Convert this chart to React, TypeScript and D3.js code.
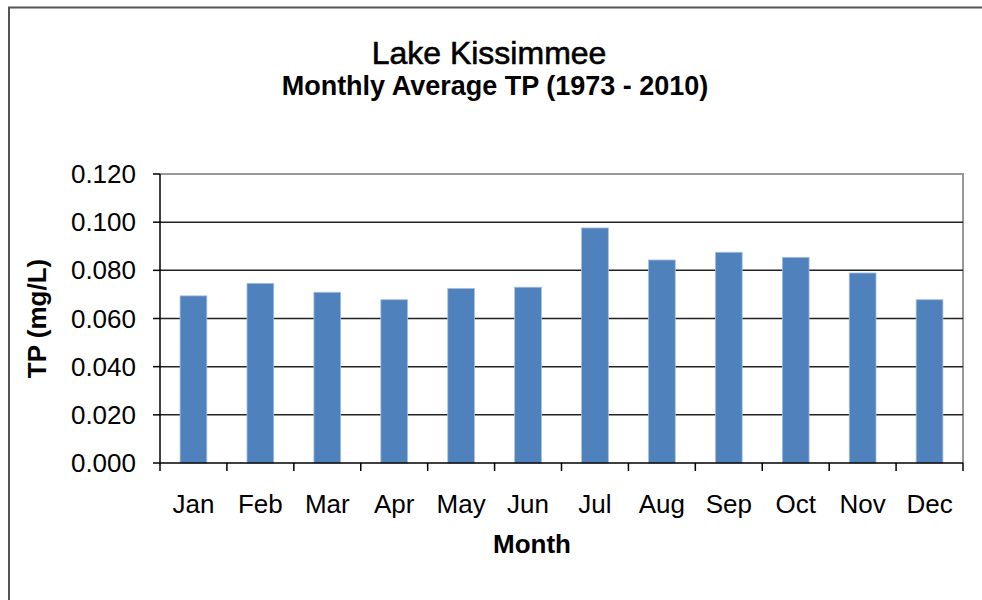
import React from "react";
import * as d3 from "d3";

const months = ["Jan", "Feb", "Mar", "Apr", "May", "Jun", "Jul", "Aug", "Sep", "Oct", "Nov", "Dec"];
const tpValues = [0.0694, 0.0746, 0.0709, 0.0678, 0.0725, 0.073, 0.0976, 0.0843, 0.0875, 0.0854, 0.0789, 0.0678];
const yTicks = [0, 0.02, 0.04, 0.06, 0.08, 0.1, 0.12];
const titleText = "Lake Kissimmee";
const subtitleText = "Monthly Average TP (1973 - 2010)";
const yAxisTitle = "TP (mg/L)";
const xAxisTitle = "Month";

const W = 982;
const H = 600;
const plot = { left: 160, right: 963, top: 174, bottom: 463 };
const FONT = "'Liberation Sans', Arial, Helvetica, sans-serif";

export default function App() {
  const x = d3
    .scaleBand<string>()
    .domain(months)
    .range([plot.left, plot.right])
    .paddingInner(0.6)
    .paddingOuter(0.3);
  const y = d3.scaleLinear().domain([0, 0.12]).range([plot.bottom, plot.top]);
  const fmt = d3.format(".3f");
  const step = x.step();
  const boundaries = d3.range(months.length + 1).map((i) => plot.left + i * step);

  return (
    <svg
      width={W}
      height={H}
      style={{ position: "absolute", left: 0, top: 0, background: "#fff" }}
      fontFamily={FONT}
    >
      <rect x={0} y={0} width={W} height={H} fill="#fff" />
      {/* outer frame */}
      <path d={`M9,${H + 5} V7.5 H${W + 5}`} fill="none" stroke="#555" strokeWidth={2} />

      {/* titles */}
      <text x={489} y={64} textAnchor="middle" fontSize={32} fill="#000" stroke="#000" strokeWidth={0.6}>
        {titleText}
      </text>
      <text x={495} y={95} textAnchor="middle" fontSize={27} fontWeight="bold" fill="#000">
        {subtitleText}
      </text>

      {/* plot border top/right */}
      <path
        d={`M${plot.left},${plot.top} H${plot.right} V${plot.bottom}`}
        fill="none"
        stroke="#999"
        strokeWidth={2}
      />

      {/* gridlines */}
      {yTicks
        .filter((t) => t > 0 && t < 0.12)
        .map((t) => (
          <line
            key={"g" + t}
            x1={plot.left}
            x2={plot.right}
            y1={y(t)}
            y2={y(t)}
            stroke="#222"
            strokeWidth={1.5}
          />
        ))}

      {/* bars */}
      {months.map((m, i) => (
        <rect
          key={m}
          x={x(m)}
          y={y(tpValues[i])}
          width={x.bandwidth()}
          height={plot.bottom - y(tpValues[i])}
          fill="#4F81BD"
          stroke="#A7C0DE"
          strokeWidth={0.8}
        />
      ))}

      {/* y axis */}
      <line x1={plot.left} x2={plot.left} y1={plot.top} y2={plot.bottom} stroke="#000" strokeWidth={1.5} />
      {yTicks.map((t) => (
        <g key={"t" + t}>
          <line x1={plot.left - 7} x2={plot.left} y1={y(t)} y2={y(t)} stroke="#000" strokeWidth={1.5} />
          <text x={136} y={y(t) + 9} textAnchor="end" fontSize={26} fill="#000">
            {fmt(t)}
          </text>
        </g>
      ))}

      {/* x axis */}
      <line x1={plot.left} x2={plot.right} y1={plot.bottom} y2={plot.bottom} stroke="#000" strokeWidth={1.5} />
      {boundaries.map((bx, i) => (
        <line key={"xt" + i} x1={bx} x2={bx} y1={plot.bottom} y2={plot.bottom + 8} stroke="#000" strokeWidth={1.5} />
      ))}
      {months.map((m) => (
        <text key={"l" + m} x={(x(m) as number) + x.bandwidth() / 2} y={513} textAnchor="middle" fontSize={26} fill="#000">
          {m}
        </text>
      ))}

      {/* axis titles */}
      <text x={532} y={553} textAnchor="middle" fontSize={26} fontWeight="bold" fill="#000">
        {xAxisTitle}
      </text>
      <text
        transform={`translate(46,${(plot.top + plot.bottom) / 2}) rotate(-90)`}
        textAnchor="middle"
        fontSize={26}
        fontWeight="bold"
        fill="#000"
      >
        {yAxisTitle}
      </text>
    </svg>
  );
}
